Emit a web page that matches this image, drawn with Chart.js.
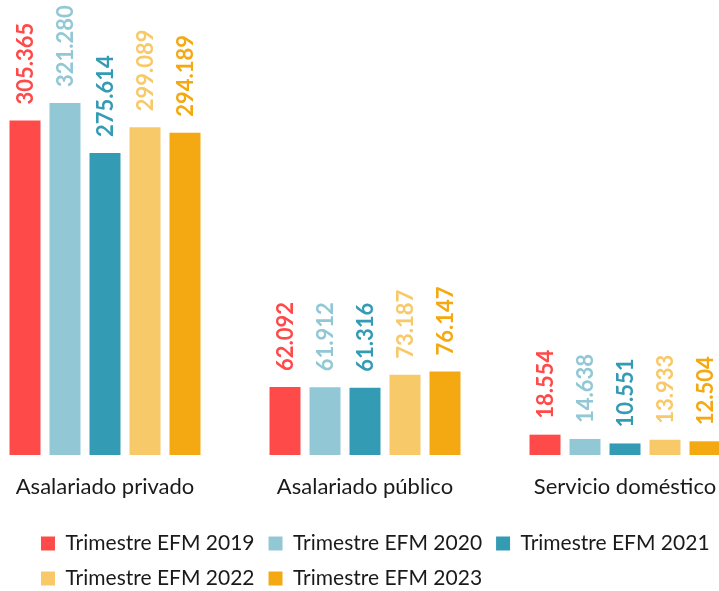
<!DOCTYPE html>
<html>
<head>
<meta charset="utf-8">
<title>Asalariados por tipo</title>
<script src="https://cdn.jsdelivr.net/npm/chart.js@4.4.1/dist/chart.umd.min.js"></script>
<style>
  html, body { margin: 0; padding: 0; background: #fff; overflow: hidden; }
</style>
</head>
<body>
<canvas id="chart" width="760" height="599"></canvas>
<script>
var categories = ['Asalariado privado', 'Asalariado público', 'Servicio doméstico'];
var seriesNames = ['Trimestre EFM 2019', 'Trimestre EFM 2020', 'Trimestre EFM 2021', 'Trimestre EFM 2022', 'Trimestre EFM 2023'];
var seriesColors = ['#FF4A4A', '#92C8D5', '#349BB5', '#F8C968', '#F4A913'];

var values2019 = [305365, 62092, 18554];
var values2020 = [321280, 61912, 14638];
var values2021 = [275614, 61316, 10551];
var values2022 = [299089, 73187, 13933];
var values2023 = [294189, 76147, 12504];

var allValues = [values2019, values2020, values2021, values2022, values2023];

// 305365 -> "305.365"
function fmt(v) {
  return String(v).replace(/\B(?=(\d{3})+(?!\d))/g, '.');
}

// vertical value labels above each bar, same colour as the bar
var barValueLabels = {
  id: 'barValueLabels',
  afterDatasetsDraw: function(chart) {
    var ctx = chart.ctx;
    ctx.save();
    ctx.font = 'bold 22px Lato';
    ctx.textAlign = 'left';
    ctx.textBaseline = 'middle';
    chart.data.datasets.forEach(function(ds, i) {
      chart.getDatasetMeta(i).data.forEach(function(bar, j) {
        ctx.save();
        ctx.translate(bar.x + 1, bar.y - 16);
        ctx.rotate(-Math.PI / 2);
        ctx.fillStyle = ds.backgroundColor;
        ctx.fillText(fmt(ds.data[j]), 0, 0);
        ctx.restore();
      });
    });
    ctx.restore();
  }
};

var datasets = [];
for (var i = 0; i < seriesNames.length; i++) {
  datasets.push({
    label: seriesNames[i],
    data: allValues[i],
    backgroundColor: seriesColors[i],
    borderWidth: 0,
    categoryPercentage: 0.7692,
    barPercentage: 0.775,
    clip: false
  });
}

var ctx = document.getElementById('chart').getContext('2d');
var myChart = new Chart(ctx, {
  type: 'bar',
  data: {
    labels: categories.map(function(c, i) { return i; }),
    datasets: datasets
  },
  plugins: [barValueLabels],
  options: {
    responsive: false,
    animation: false,
    layout: { padding: { left: 27, right: 0, top: 0, bottom: 0 } },
    scales: {
      x: {
        type: 'linear',
        offset: false,
        min: -0.3,
        max: 2.5192,
        afterBuildTicks: function(scale) {
          scale.ticks = categories.map(function(c, i) { return { value: i }; });
        },
        afterFit: function(scale) {
          scale.height = 64;
          scale.paddingLeft = 0;
          scale.paddingRight = 0;
        },
        grid: { display: false, drawTicks: false },
        border: { display: false },
        ticks: {
          autoSkip: false,
          maxRotation: 0,
          padding: 19,
          color: '#1a1a1a',
          font: { family: 'Lato', size: 22 },
          callback: function(v) { return categories[v]; }
        }
      },
      y: {
        display: false,
        min: 0,
        max: 415300
      }
    },
    plugins: {
      tooltip: { enabled: false },
      legend: {
        position: 'bottom',
        align: 'start',
        labels: {
          boxWidth: 14,
          boxHeight: 14,
          padding: 14,
          color: '#1a1a1a',
          font: { family: 'Lato', size: 21 }
        }
      }
    }
  }
});
</script>
</body>
</html>
